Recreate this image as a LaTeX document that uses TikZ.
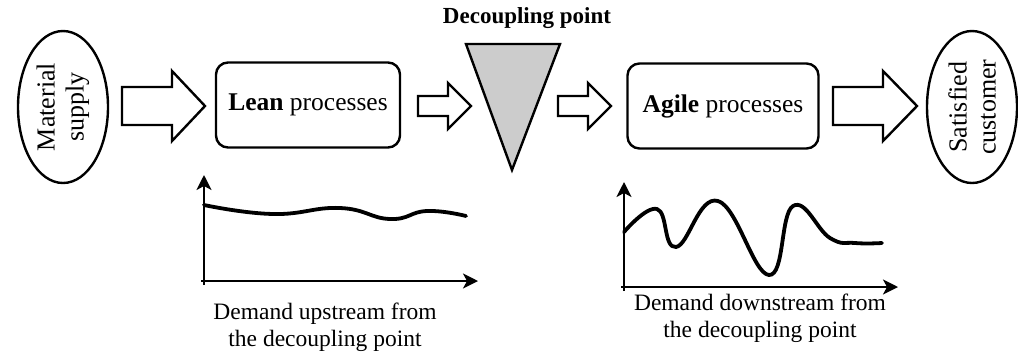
\documentclass[tikz,border=0pt]{standalone}
\usepackage{fontspec}
\setmainfont{Liberation Serif}
\usetikzlibrary{shapes.geometric,arrows.meta}
\begin{document}
\begin{tikzpicture}[x=1pt,y=-1pt,
  every node/.style={font=\fontsize{23.5}{27}\selectfont, inner sep=0pt},
  oval/.style={draw, ellipse, line width=2.4pt, rotate=90, minimum width=152pt, minimum height=90pt, align=center, font=\fontsize{26}{29}\selectfont},
  procbox/.style={draw, rounded corners=12pt, line width=2.4pt, minimum width=184pt, minimum height=85pt, font=\fontsize{25.5}{29}\selectfont},
  blockarrow/.style={draw, line width=2.4pt, fill=white, line join=miter},
  axisline/.style={line width=2pt, -{Stealth[length=15pt,width=15pt,inset=4pt]}},
  demand/.style={line width=3.8pt, line cap=round, line join=round},
  lbl/.style={align=center}
]
\useasboundingbox (0,0) rectangle (1018,360);

% main nodes
\node[oval] (mat) at (63,107) {Material\\supply};
\node[procbox] (lean) at (308,105) {\textbf{Lean} processes};
\node[procbox, minimum width=191pt] (agile) at (723,106) {\textbf{Agile} processes};
\node[oval] (cust) at (972,107) {Satisfied\\customer};

% decoupling point
\coordinate (t1) at (466,44);
\coordinate (t2) at (560,44);
\coordinate (t3) at (512,170);
\draw[fill=black!20, line width=2.4pt, line join=miter] (t1) -- (t2) -- (t3) -- cycle;
\node[font=\fontsize{23}{27}\selectfont\bfseries] (dp) at (527,18) {Decoupling point};

% block arrows
\draw[blockarrow] (122,87) -- (172,87) -- (172,71) -- (205,106) -- (172,141) -- (172,125) -- (122,125) -- cycle;
\draw[blockarrow] (418,96) -- (448,96) -- (448,83) -- (471,106) -- (448,129) -- (448,116) -- (418,116) -- cycle;
\draw[blockarrow] (558,96) -- (588,96) -- (588,83) -- (611,106) -- (588,129) -- (588,116) -- (558,116) -- cycle;
\draw[blockarrow] (833,87) -- (883,87) -- (883,71) -- (917,106) -- (883,141) -- (883,125) -- (833,125) -- cycle;

% chart 1
\coordinate (x1s) at (201,281);
\coordinate (x1e) at (478,281);
\coordinate (y1s) at (204,285);
\coordinate (y1e) at (204,175);
\draw[axisline] (x1s) -- (x1e);
\draw[axisline] (y1s) -- (y1e);
\draw[demand] plot[smooth, tension=0.8] coordinates {(204,205) (273,214) (340,208) (390,219) (427,211) (466,216)};
\node[lbl] (l1) at (325,327) {Demand upstream from\\the decoupling point};

% chart 2
\coordinate (x2s) at (621,287);
\coordinate (x2e) at (898,287);
\coordinate (y2s) at (624,291);
\coordinate (y2e) at (624,182);
\draw[axisline] (x2s) -- (x2e);
\draw[axisline] (y2s) -- (y2e);
\draw[demand] plot[smooth, tension=0.75] coordinates {(624,232) (657,209) (676,247) (718,201) (769,275) (793,206) (830,238) (855,243) (882,243)};
\node[lbl] (l2) at (760,318) {Demand downstream from\\the decoupling point};
\end{tikzpicture}
\end{document}
